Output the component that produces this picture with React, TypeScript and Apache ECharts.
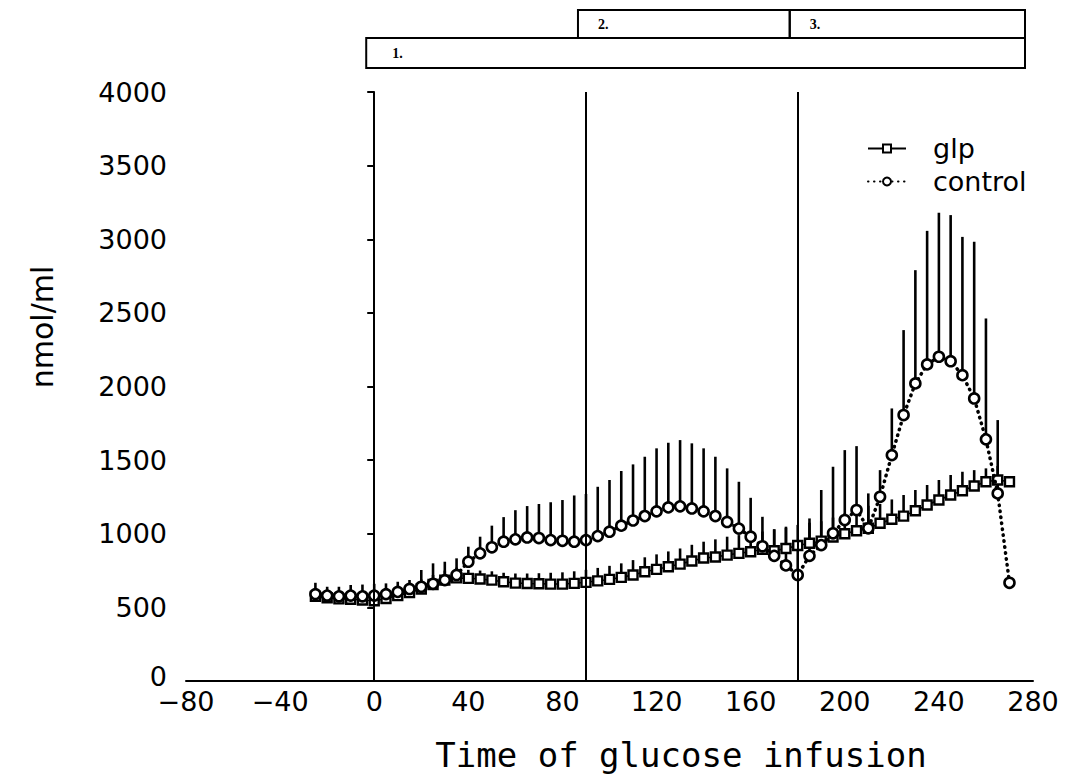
import React, { useEffect, useRef } from "react";
import * as echarts from "echarts";

const times = [
  -25, -20, -15, -10, -5, 0, 5, 10, 15, 20,
  25, 30, 35, 40, 45, 50, 55, 60, 65, 70,
  75, 80, 85, 90, 95, 100, 105, 110, 115, 120,
  125, 130, 135, 140, 145, 150, 155, 160, 165, 170,
  175, 180, 185, 190, 195, 200, 205, 210, 215, 220,
  225, 230, 235, 240, 245, 250, 255, 260, 265, 270,
];

const glpMean = [
  575, 565, 558, 555, 550, 545, 560, 580, 600, 625,
  655, 685, 700, 697, 693, 685, 674, 665, 662, 660,
  658, 658, 663, 670, 680, 690, 704, 720, 742, 758,
  776, 794, 815, 835, 842, 855, 867, 878, 895, 885,
  900, 920, 935, 950, 978, 1000, 1020, 1037, 1071, 1098,
  1120, 1156, 1195, 1229, 1263, 1292, 1324, 1353, 1365, 1353,
];

const glpUpper = [
  625, 615, 610, 608, 605, 600, 620, 640, 660, 690,
  720, 750, 770, 755, 750, 745, 735, 730, 730, 732,
  735, 738, 745, 755, 768, 782, 799, 821, 840, 860,
  880, 900, 925, 946, 962, 980, 991, 1000, 1015, 1030,
  1040, 1060, 1075, 1085, 1110, 1140, 1165, 1190, 1202, 1233,
  1263, 1297, 1331, 1365, 1399, 1421, 1432, 1444, 1460, 1380,
];

const controlMean = [
  590, 580, 575, 580, 575, 580, 590, 605, 625, 640,
  660, 685, 720, 810, 867, 908, 946, 962, 975, 971,
  957, 952, 946, 957, 984, 1014, 1055, 1090, 1120, 1152,
  1179, 1186, 1172, 1152, 1120, 1080, 1035, 980, 915, 850,
  785, 720, 850, 923, 1003, 1093, 1161, 1037, 1251, 1534,
  1806, 2021, 2150, 2202, 2172, 2077, 1919, 1641, 1274, 667,
];

const controlUpper = [
  667, 640, 640, 652, 655, 660, 663, 674, 686, 754,
  799, 810, 833, 912, 980, 1055, 1113, 1160, 1188, 1202,
  1214, 1229, 1260, 1270, 1319, 1365, 1426, 1471, 1523, 1580,
  1618, 1636, 1614, 1580, 1523, 1444, 1353, 1244, 1115, 1030,
  1048, 900, 1104, 1297, 1455, 1568, 1595, 1274, 1432, 1851,
  2383, 2790, 3057, 3180, 3164, 3016, 2983, 2462, 1772, 700,
];

const periodLines = [0, 90, 180];
const periodBoxes = [
  { label: "1.", from: 0, to: 280, row: 1 },
  { label: "2.", from: 90, to: 180, row: 0 },
  { label: "3.", from: 180, to: 280, row: 0 },
];

const seriesNames = ["glp", "control"];
const xTitle = "Time of glucose infusion";
const yTitle = "nmol/ml";

const FONT = "DejaVu Sans";
const MONO = "DejaVu Sans Mono";

export default function App() {
  const ref = useRef<HTMLDivElement>(null);

  useEffect(() => {
    document.body.style.margin = "0";
    const chart = echarts.init(ref.current!, null, { renderer: "svg" });

    const errRender = (params: any, api: any) => {
      const p0 = api.coord([api.value(0), api.value(1)]);
      const p1 = api.coord([api.value(0), api.value(2)]);
      return {
        type: "line",
        shape: { x1: p0[0], y1: p0[1], x2: p1[0], y2: p1[1] },
        style: { stroke: "#000", lineWidth: 2.6 },
      };
    };

    chart.setOption({
      animation: false,
      backgroundColor: "#fff",
      grid: { left: 186, top: 92, width: 847, height: 589, containLabel: false },
      xAxis: {
        type: "value",
        min: -80,
        max: 280,
        interval: 40,
        axisLine: { show: true, lineStyle: { color: "#000", width: 2 } },
        axisTick: { show: false },
        splitLine: { show: false },
        axisLabel: {
          color: "#000",
          fontFamily: FONT,
          fontSize: 27,
          margin: 7,
          formatter: (v: number) => (v < 0 ? "\u2212" + Math.abs(v) : String(v)),
        },
      },
      yAxis: {
        type: "value",
        min: 0,
        max: 4000,
        interval: 500,
        offset: 3,
        axisLine: { show: true, lineStyle: { color: "#000", width: 2 } },
        axisTick: { show: true, inside: false, length: 7, lineStyle: { color: "#000", width: 2 } },
        splitLine: { show: false },
        axisLabel: {
          color: "#000",
          fontFamily: FONT,
          fontSize: 27,
          margin: 16,
          formatter: (v: number) => (v === 0 ? "{z|0}" : String(v)),
          rich: { z: { fontFamily: FONT, fontSize: 27, color: "#000", padding: [0, 0, 10, 0] } },
        },
      },
      legend: {
        data: seriesNames,
        orient: "vertical",
        left: 862,
        top: 130,
        itemWidth: 38,
        itemHeight: 10,
        itemGap: 6,
        textStyle: { color: "#000", fontFamily: FONT, fontSize: 27, padding: [0, 0, 0, 22] },
      },
      series: [
        {
          name: "glp-err",
          type: "custom",
          renderItem: errRender,
          data: times.map((t, i) => [t, glpMean[i], glpUpper[i]]),
          encode: { x: 0, y: [1, 2] },
          silent: true,
          z: 1,
        },
        {
          name: "control-err",
          type: "custom",
          renderItem: errRender,
          data: times.map((t, i) => [t, controlMean[i], controlUpper[i]]),
          encode: { x: 0, y: [1, 2] },
          silent: true,
          z: 1,
        },
        {
          name: "glp",
          type: "line",
          data: times.map((t, i) => [t, glpMean[i]]),
          symbol: "rect",
          symbolSize: 9,
          showSymbol: true,
          lineStyle: { color: "#000", width: 1.5 },
          itemStyle: { color: "#fff", borderColor: "#000", borderWidth: 2.4 },
          z: 3,
          markLine: {
            silent: true,
            symbol: "none",
            label: { show: false },
            lineStyle: { color: "#000", width: 2, type: "solid" },
            data: periodLines.map((v) => ({ xAxis: v })),
          },
        },
        {
          name: "control",
          type: "line",
          data: times.map((t, i) => [t, controlMean[i]]),
          symbol: "circle",
          symbolSize: 10,
          showSymbol: true,
          lineStyle: { color: "#000", width: 3.5, type: [0.5, 5.5], cap: "round" },
          itemStyle: { color: "#fff", borderColor: "#000", borderWidth: 2.6 },
          z: 4,
        },
      ],
    });

    const rowTop = [10, 38];
    const rowH = [28, 30];
    const shift = -8;
    const boxes: any[] = [];
    periodBoxes.forEach((b) => {
      const x1 = (chart.convertToPixel({ xAxisIndex: 0 }, b.from) as number) + shift;
      const x2 = (chart.convertToPixel({ xAxisIndex: 0 }, b.to) as number) + shift;
      boxes.push({
        type: "rect",
        shape: { x: x1, y: rowTop[b.row], width: x2 - x1, height: rowH[b.row] },
        style: { fill: "none", stroke: "#000", lineWidth: 2 },
      });
      boxes.push({
        type: "text",
        x: x1 + (b.row === 1 ? 26 : 20),
        y: rowTop[b.row] + rowH[b.row] / 2,
        style: {
          text: b.label,
          fill: "#000",
          font: "bold 14px 'Liberation Serif'",
          verticalAlign: "middle",
        },
      });
    });

    chart.setOption({
      graphic: [
        ...boxes,
        {
          type: "text",
          x: 42,
          y: 327,
          rotation: Math.PI / 2,
          style: {
            text: yTitle,
            fill: "#000",
            font: `30px '${FONT}'`,
            align: "center",
            verticalAlign: "middle",
          },
        },
        {
          type: "text",
          x: 681,
          y: 755,
          style: {
            text: xTitle,
            fill: "#000",
            font: `34px '${MONO}'`,
            align: "center",
            verticalAlign: "middle",
          },
        },
      ],
    });

    return () => chart.dispose();
  }, []);

  return <div ref={ref} style={{ width: 1079, height: 783 }} />;
}
